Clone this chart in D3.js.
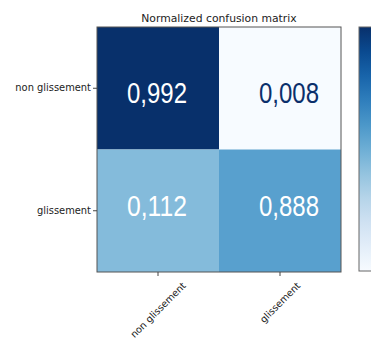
<!DOCTYPE html>
<html>
<head>
<meta charset="utf-8">
<script src="https://cdn.jsdelivr.net/npm/d3@7"></script>
<style>
  html, body { margin: 0; padding: 0; background: #fff; }
  svg { display: block; }
</style>
</head>
<body>
<svg id="chart" width="371" height="338"></svg>
<script>
// Classes (true label rows, predicted label columns)
const classes = ["non glissement", "glissement"];
// Normalized confusion matrix values, row by row
const matrixValues = [
  [0.992, 0.008],
  [0.112, 0.888]
];
// Shade of each cell on the Blues colour ramp
const cellShade = [
  [1.00, 0.00],
  [0.44, 0.56]
];
// Colour of the number written in each cell
const labelColor = [
  ["#ffffff", "#0b2f6b"],
  ["#ffffff", "#ffffff"]
];
const title = "Normalized confusion matrix";

const svg = d3.select("#chart");
const plot = { x0: 97, x1: 341, y0: 27, y1: 272 };

const x = d3.scaleBand().domain(classes).range([plot.x0, plot.x1]);
const y = d3.scaleBand().domain(classes).range([plot.y0, plot.y1]);
const color = d3.scaleSequential(d3.interpolateBlues).domain([0, 1]);

const fmt = v => d3.format(".3f")(v).replace(".", ",");

const cells = [];
classes.forEach((rowName, i) => {
  classes.forEach((colName, j) => {
    cells.push({ i, j, row: rowName, col: colName, value: matrixValues[i][j],
                 shade: cellShade[i][j], ink: labelColor[i][j] });
  });
});

svg.append("g").selectAll("rect")
  .data(cells)
  .join("rect")
  .attr("x", d => x(d.col))
  .attr("y", d => y(d.row))
  .attr("width", x.bandwidth())
  .attr("height", y.bandwidth())
  .attr("fill", d => color(d.shade));

// Numbers sit a little right in the second column and toward the middle row line
const numDx = j => (j === 0 ? -1 : 9);
const numDy = i => (i === 0 ? 15 : 5);

svg.append("g").selectAll("text")
  .data(cells)
  .join("text")
  .attr("x", d => x(d.col) + x.bandwidth() / 2 + numDx(d.j))
  .attr("y", d => y(d.row) + y.bandwidth() / 2 + numDy(d.i))
  .attr("text-anchor", "middle")
  .attr("font-family", "'Liberation Sans', Arial, sans-serif")
  .attr("font-size", 29)
  .attr("textLength", 60)
  .attr("lengthAdjust", "spacingAndGlyphs")
  .attr("fill", d => d.ink)
  .text(d => fmt(d.value));

// Frame
svg.append("rect")
  .attr("x", plot.x0).attr("y", plot.y0)
  .attr("width", plot.x1 - plot.x0).attr("height", plot.y1 - plot.y0)
  .attr("fill", "none").attr("stroke", "#555").attr("stroke-width", 1);

// Axes
const yAxis = d3.axisLeft(y).tickSize(4).tickPadding(2);
const gy = svg.append("g").attr("transform", `translate(${plot.x0},0)`).call(yAxis);
gy.select(".domain").remove();
gy.selectAll("line").attr("stroke", "#444");
gy.selectAll("text")
  .attr("font-family", "'DejaVu Sans', sans-serif")
  .attr("font-size", 9.9)
  .attr("fill", "#222");

const xAxis = d3.axisBottom(x).tickSize(4).tickFormat("");
const gx = svg.append("g").attr("transform", `translate(0,${plot.y1})`).call(xAxis);
gx.select(".domain").remove();
gx.selectAll("line").attr("stroke", "#444");

// Rotated bottom labels, centred under their ticks
const xLabels = svg.append("g").selectAll("text")
  .data(classes)
  .join("text")
  .attr("font-family", "'DejaVu Sans', sans-serif")
  .attr("font-size", 9.6)
  .attr("fill", "#222")
  .attr("text-anchor", "middle")
  .attr("dominant-baseline", "central")
  .text(d => d);
xLabels.each(function (d) {
  const w = this.getComputedTextLength();
  const h = 11;
  const half = (w + h) * Math.SQRT1_2 / 2;
  const cx = x(d) + x.bandwidth() / 2;
  const cy = plot.y1 + 8 + half;
  d3.select(this)
    .attr("x", cx).attr("y", cy)
    .attr("transform", `rotate(-45,${cx},${cy})`);
});

// Title
svg.append("text")
  .attr("x", (plot.x0 + plot.x1) / 2)
  .attr("y", 22)
  .attr("text-anchor", "middle")
  .attr("font-family", "'DejaVu Sans', sans-serif")
  .attr("font-size", 10.8)
  .attr("fill", "#222")
  .text(title);

// Colour bar
const defs = svg.append("defs");
const grad = defs.append("linearGradient")
  .attr("id", "cbar").attr("x1", 0).attr("y1", 1).attr("x2", 0).attr("y2", 0);
d3.range(0, 1.0001, 0.1).forEach(t => {
  grad.append("stop").attr("offset", t).attr("stop-color", color(t));
});
const cbar = { x: 359, y0: 27, y1: 271, w: 16 };
svg.append("rect")
  .attr("x", cbar.x).attr("y", cbar.y0)
  .attr("width", cbar.w).attr("height", cbar.y1 - cbar.y0)
  .attr("fill", "url(#cbar)")
  .attr("stroke", "#666").attr("stroke-width", 1);
</script>
</body>
</html>
